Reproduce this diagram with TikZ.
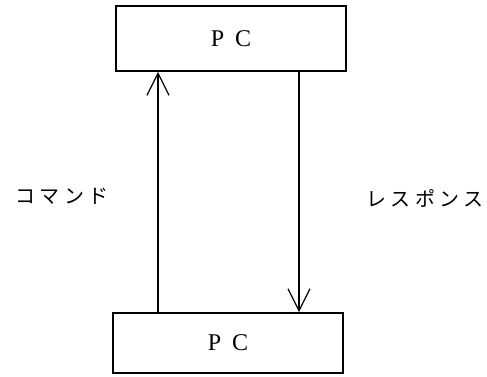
\documentclass[tikz,border=0pt]{standalone}
\usepackage{fontspec}
\setmainfont{Liberation Serif}
\newfontfamily\jpfont[LetterSpace=22]{Noto Sans CJK JP}
\usepackage{tikz}
\usetikzlibrary{positioning,arrows.meta,calc}

\begin{document}
\begin{tikzpicture}[
    x=1pt, y=-1pt,
    font=\fontsize{24}{28}\selectfont,
    pcbox/.style={
        draw,
        line width=1.6pt,
        minimum width=230pt,
        align=center,
        inner sep=0pt
    },
    link/.style={line width=1.3pt, -{Straight Barb[length=22pt,width=22pt,line width=1.3pt]}},
    annot/.style={font=\jpfont\fontsize{20}{24}\selectfont, inner sep=0pt}
]
\useasboundingbox (0,0) rectangle (487,376);

\node[pcbox, minimum height=65pt] (pctop) at (231,38.5) {P\hspace{0.45em}C};
\node[pcbox, minimum height=60pt] (pcbot) at (228,343) {P\hspace{0.45em}C};

% vertical positions of the two links
\coordinate (cmdx) at (158,0);
\coordinate (resx) at (299,0);

\draw[link] (cmdx |- pcbot.north) -- (cmdx |- pctop.south);
\draw[link] (resx |- pctop.south) -- (resx |- pcbot.north);

\node[annot] (cmd) at (62,196) {コマンド};
\node[annot] (res) at (425,198) {レスポンス};

\end{tikzpicture}
\end{document}
